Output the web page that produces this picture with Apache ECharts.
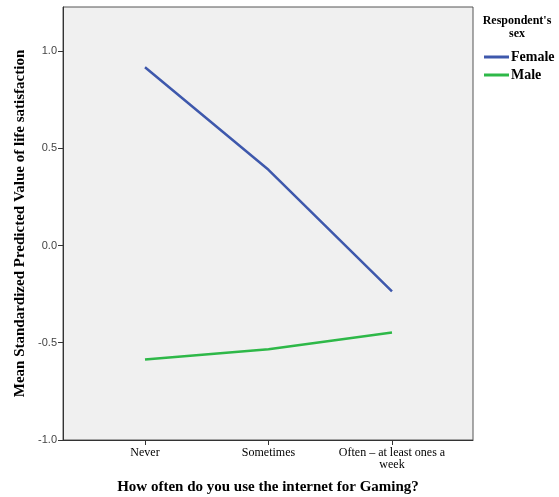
<!DOCTYPE html>
<html>
<head>
<meta charset="utf-8">
<script src="https://cdn.jsdelivr.net/npm/echarts@6/dist/echarts.min.js"></script>
<style>
  html, body { margin: 0; padding: 0; background: #ffffff; }
  #chart { width: 559px; height: 497px; }
</style>
</head>
<body>
<div id="chart"></div>
<script>
// Frequency of internet use for gaming (x categories)
const categories = ['Never', 'Sometimes', 'Often \u2013 at least ones a\nweek'];
// Mean standardized predicted life satisfaction, by sex
const femaleValues = [0.916, 0.389, -0.236];
const maleValues = [-0.586, -0.534, -0.447];
const yTicks = [-1.0, -0.5, 0.0, 0.5, 1.0];

const serif = '"Liberation Serif", "DejaVu Serif", serif';
const sans = '"Liberation Sans", Arial, sans-serif';

const toPairs = vals => vals.map((v, i) => [i, v]);
const catIdx = categories.map((_, i) => i);

const chart = echarts.init(document.getElementById('chart'));
chart.setOption({
  animation: false,
  backgroundColor: '#ffffff',
  grid: {
    left: 63, top: 7, right: 86, bottom: 57,
    containLabel: false,
    outerBoundsMode: 'none',
    show: true,
    backgroundColor: '#f0f0f0',
    borderColor: '#555555',
    borderWidth: 1
  },
  legend: {
    data: ['Female', 'Male'],
    orient: 'vertical',
    left: 479,
    top: 45,
    itemWidth: 25,
    itemHeight: 3,
    itemGap: 4,
    icon: 'rect',
    textStyle: { fontFamily: serif, fontWeight: 'bold', fontSize: 14, color: '#000', padding: [0, 0, 0, -3] }
  },
  graphic: [{
    type: 'text',
    x: 517,
    y: 14,
    style: {
      text: "Respondent's\nsex",
      font: 'bold 12px ' + serif,
      fill: '#000',
      align: 'center',
      verticalAlign: 'top',
      lineHeight: 13
    }
  }],
  xAxis: {
    type: 'value',
    min: -0.664,
    max: 2.656,
    name: 'How often do you use the internet for Gaming?',
    nameLocation: 'middle',
    nameGap: 40,
    nameTextStyle: { fontFamily: serif, fontWeight: 'bold', fontSize: 15, color: '#000' },
    splitLine: { show: false },
    axisLine: { show: true, onZero: false, lineStyle: { color: '#333', width: 1 } },
    axisTick: { show: true, length: 5, customValues: catIdx, lineStyle: { color: '#333' } },
    axisLabel: {
      customValues: catIdx,
      formatter: v => categories[Math.round(v)] || '',
      fontFamily: serif, fontSize: 12, color: '#000', lineHeight: 12, margin: 7
    }
  },
  yAxis: {
    type: 'value',
    min: -1.0,
    max: 1.226,
    name: 'Mean Standardized Predicted Value of life satisfaction',
    nameLocation: 'middle',
    nameGap: 33,
    nameTextStyle: { fontFamily: serif, fontWeight: 'bold', fontSize: 15, color: '#000' },
    splitLine: { show: false },
    axisLine: { show: true, onZero: false, lineStyle: { color: '#333', width: 1 } },
    axisTick: { show: true, length: 5, customValues: yTicks, lineStyle: { color: '#333' } },
    axisLabel: {
      customValues: yTicks,
      formatter: v => v.toFixed(1),
      fontFamily: sans, fontSize: 11, color: '#444', margin: 6
    }
  },
  series: [
    {
      name: 'Female', type: 'line', data: toPairs(femaleValues),
      showSymbol: false, symbol: 'none',
      lineStyle: { color: '#3e58ac', width: 2.5 },
      itemStyle: { color: '#3e58ac' }
    },
    {
      name: 'Male', type: 'line', data: toPairs(maleValues),
      showSymbol: false, symbol: 'none',
      lineStyle: { color: '#2eb848', width: 2.5 },
      itemStyle: { color: '#2eb848' }
    }
  ]
});
</script>
</body>
</html>
